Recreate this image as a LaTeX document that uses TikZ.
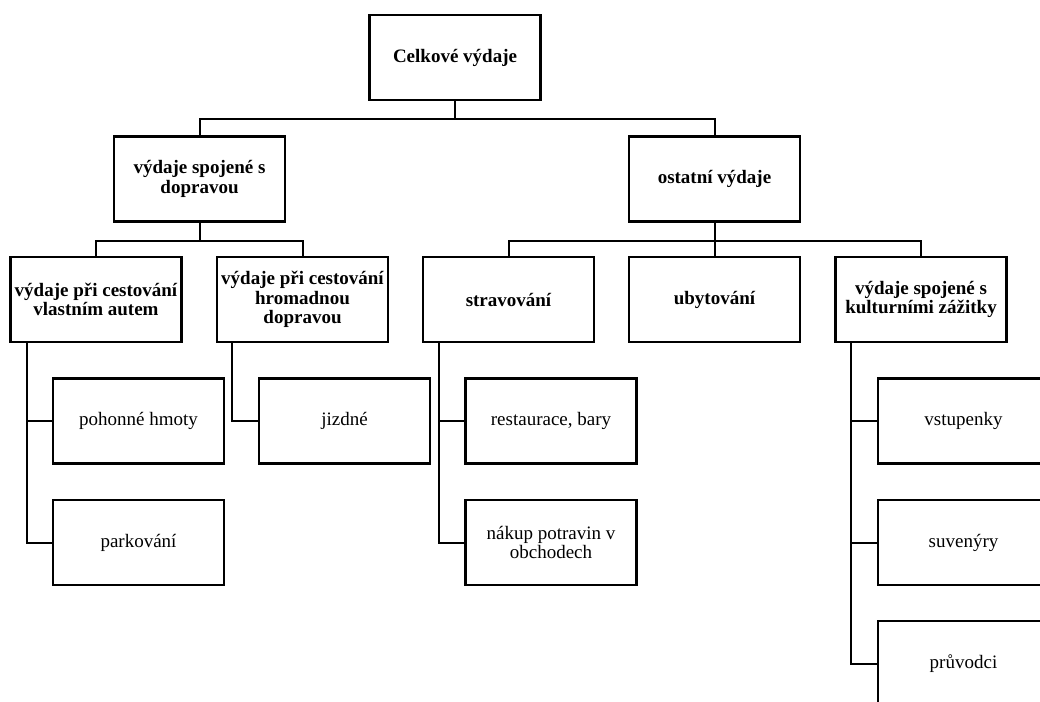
\documentclass[tikz,border=0pt]{standalone}
\usepackage{fontspec}
\setmainfont{Liberation Serif}
\begin{document}
\begin{tikzpicture}[x=1pt,y=1pt,
  box/.style={draw=black,line width=2.4pt,rectangle,minimum width=171pt,minimum height=85pt,
    inner sep=1pt,align=center,font=\fontsize{19}{19.5}\selectfont},
  head/.style={box,font=\fontsize{19}{19.5}\selectfont\bfseries},
  leaf/.style={box},
  link/.style={draw=black,line width=2pt}]
\useasboundingbox (0,0) rectangle (1040,-701);
\clip (0,0) rectangle (1040,-701);

% top level
\node[head] (root) at (455,-57.5) {Celkové výdaje};

% second level
\node[head] (trans) at (199.5,-179) {výdaje spojené s\\dopravou};
\node[head] (other) at (714.5,-179) {ostatní výdaje};

% third level
\node[head] (car)     at (96,-299.5)    {výdaje při cestování\\vlastním autem};
\node[head] (public)  at (302.5,-299.5) {výdaje při cestování\\hromadnou\\dopravou};
\node[head] (food)    at (508.5,-299.5) {stravování};
\node[head] (stay)    at (714.5,-299.5) {ubytování};
\node[head] (culture) at (921,-299.5)   {výdaje spojené s\\kulturními zážitky};

% leaves
\node[leaf] (fuel)    at (138.5,-421) {pohonné hmoty};
\node[leaf] (parking) at (138.5,-542.5) {parkování};
\node[leaf] (fare)    at (344.5,-421) {jizdné};
\node[leaf] (rest)    at (551,-421) {restaurace, bary};
\node[leaf] (shop)    at (551,-542.5) {nákup potravin v\\obchodech};
\node[leaf] (ticket)  at (963.5,-421) {vstupenky};
\node[leaf] (souv)    at (963.5,-542.5) {suvenýry};
\node[leaf] (guide)   at (963.5,-663.5) {průvodci};

% elbow connectors between levels
\draw[link] (root.south) -- ++(0,-18) -| (trans.north);
\draw[link] (root.south) -- ++(0,-18) -| (other.north);
\draw[link] (trans.south) -- ++(0,-18) -| (car.north);
\draw[link] (trans.south) -- ++(0,-18) -| (public.north);
\draw[link] (other.south) -- ++(0,-18) -| (food.north);
\draw[link] (other.south) -- (stay.north);
\draw[link] (other.south) -- ++(0,-18) -| (culture.north);

% side trunks to the leaves
\draw[link] ([xshift=18pt]car.south west) |- (fuel.west);
\draw[link] ([xshift=18pt]car.south west) |- (parking.west);
\draw[link] ([xshift=16pt]public.south west) |- (fare.west);
\draw[link] ([xshift=17pt]food.south west) |- (rest.west);
\draw[link] ([xshift=17pt]food.south west) |- (shop.west);
\draw[link] ([xshift=17pt]culture.south west) |- (ticket.west);
\draw[link] ([xshift=17pt]culture.south west) |- (souv.west);
\draw[link] ([xshift=17pt]culture.south west) |- (guide.west);
\end{tikzpicture}
\end{document}
